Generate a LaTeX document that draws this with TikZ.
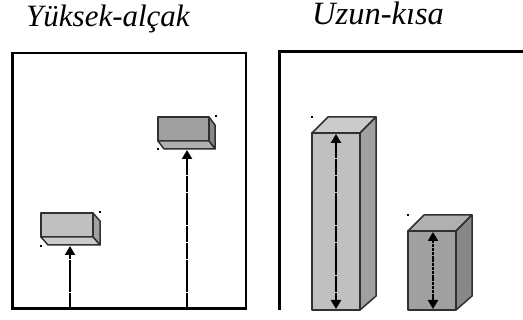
\documentclass[tikz,border=0pt]{standalone}
\usepackage{fontspec}
\newfontfamily\titlefont{Liberation Serif Italic}
\usetikzlibrary{arrows.meta}
\definecolor{gA}{HTML}{C0C0C0}
\definecolor{gB}{HTML}{A0A0A0}
\definecolor{gC}{HTML}{CBCBCB}
\definecolor{gD}{HTML}{888888}
\definecolor{gE}{HTML}{B0B0B0}
\definecolor{edge}{HTML}{303030}
\tikzset{
  face/.style={draw=edge,line width=1.5pt,line join=round},
  frame/.style={draw=black,line width=1.6pt},
  thickframe/.style={draw=black,line width=3pt},
  tipA/.tip={Triangle[width=10pt,length=9pt]},
  arr/.style={line width=2.6pt,dash pattern=on 16pt off 0.7pt,-tipA},
  darr/.style={line width=2.6pt,dash pattern=on 16pt off 0.7pt,tipA-tipA},
  darrb/.style={line width=2.6pt,dash pattern=on 3pt off 0.8pt,tipA-tipA},
  handle/.style={fill=black,inner sep=0pt,minimum size=2.5pt,draw=none},
  title/.style={titlefont,inner sep=0pt,anchor=base west},
  titlefont/.style={font=\titlefont\fontsize{31}{32}\selectfont}
}
\begin{document}
\begin{tikzpicture}[x=1pt,y=-1pt]
\useasboundingbox (0,0) rectangle (523,320);
% titles
\node[title] (t1) at (26,27) {Yüksek-alçak};
\node[title,font=\titlefont\fontsize{32.5}{33}\selectfont] (t2) at (312,25) {Uzun-kısa};
% left frame
\draw[frame] (12,53) -- (246,53) -- (246,309);
\draw[thickframe] (12,52) -- (12,309) -- (247,309);
% right frame
\draw[thickframe] (279,310) -- (279,52) -- (523,52);
% low box
\draw[face,fill=gA] (41,213) rectangle (93,237);
\draw[face,fill=gB] (93,213) -- (100,221) -- (100,245) -- (93,237) -- cycle;
\draw[face,fill=gC] (41,237) -- (93,237) -- (100,245) -- (48,245) -- cycle;
\node[handle] (h1) at (100,212) {};
\node[handle] (h2) at (41,246) {};
% high box
\draw[face,fill=gB] (158,117) rectangle (209,141);
\draw[face,fill=gD] (209,117) -- (215,125) -- (215,149) -- (209,141) -- cycle;
\draw[face,fill=gE] (158,141) -- (209,141) -- (215,149) -- (164,149) -- cycle;
\node[handle] (h3) at (216,116) {};
\node[handle] (h4) at (158,149) {};
% left arrows
\coordinate (a1s) at (70,309);
\coordinate (a1e) at (70,246);
\coordinate (a2s) at (187,309);
\coordinate (a2e) at (187,150);
\draw[arr] (a1s) -- (a1e);
\draw[arr] (a2s) -- (a2e);
% tall bar
\draw[face,fill=gA] (312,133) rectangle (360,310);
\draw[face,fill=gC] (312,133) -- (328,117) -- (376,117) -- (360,133) -- cycle;
\draw[face,fill=gB] (360,133) -- (376,117) -- (376,296) -- (360,310) -- cycle;
\node[handle] (h5) at (312,117) {};
% short bar
\draw[face,fill=gB] (408,231) rectangle (456,310);
\draw[face,fill=gE] (408,231) -- (424,215) -- (472,215) -- (456,231) -- cycle;
\draw[face,fill=gD] (456,231) -- (472,215) -- (472,296) -- (456,310) -- cycle;
\node[handle] (h6) at (408,215) {};
% bar arrows
\coordinate (b1s) at (336,134);
\coordinate (b1e) at (336,309);
\coordinate (b2s) at (433,232);
\coordinate (b2e) at (433,309);
\draw[darr] (b1s) -- (b1e);
\draw[darrb] (b2s) -- (b2e);
\end{tikzpicture}
\end{document}
